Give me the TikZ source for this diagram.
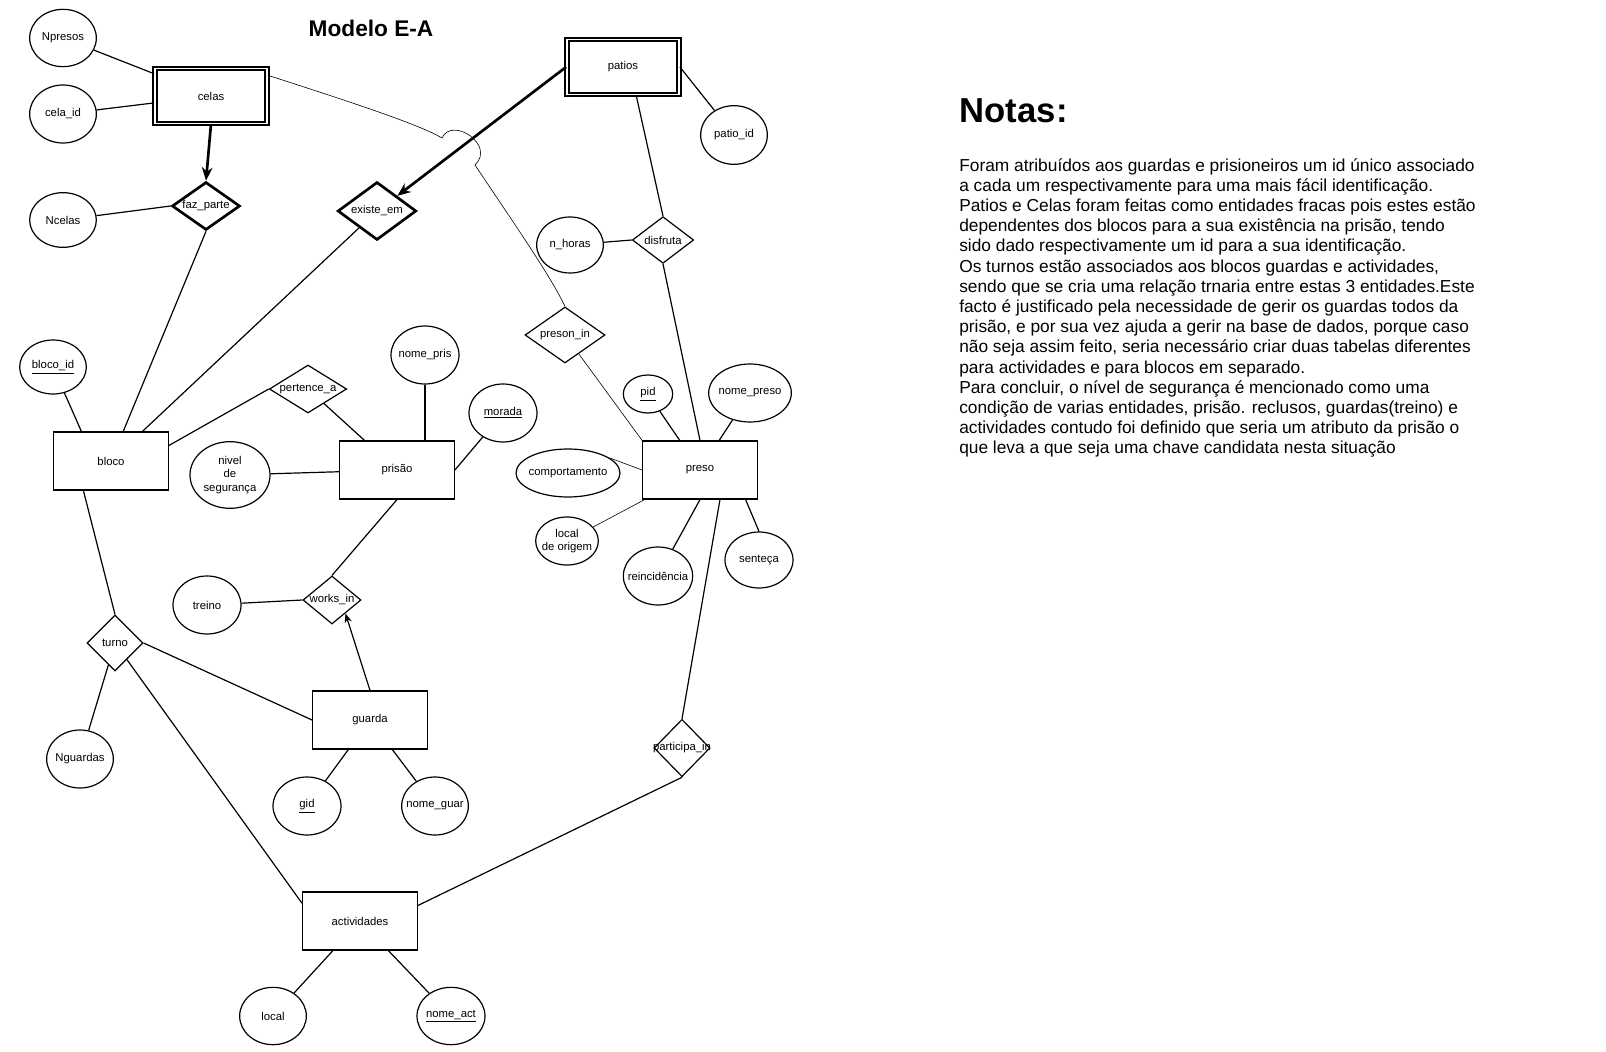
\documentclass[tikz,border=0pt]{standalone}
\usepackage{fontspec}
\setmainfont{Liberation Sans}
\usetikzlibrary{shapes.geometric,arrows.meta}

\begin{document}
\begin{tikzpicture}[x=.75pt,y=-.75pt,
    font=\fontsize{8.5}{10}\selectfont,
    every label/.style={inner sep=0pt,align=center},
    ent/.style={draw,line width=.9pt,minimum width=86pt,minimum height=43.5pt},
    weak/.style={draw,line width=1.35pt,double=white,double distance=1.1pt,minimum width=84pt,minimum height=41pt},
    attr/.style={ellipse,draw,line width=.9pt,inner sep=0pt,minimum width=51pt,minimum height=43.5pt},
    rel/.style={diamond,draw,line width=.9pt,inner sep=0pt},
    idrel/.style={rel,line width=2pt},
    link/.style={line width=.9pt},
    faint/.style={line width=.45pt},
    own/.style={line width=2pt,-{Stealth[length=10pt,width=8pt]}},
    toward/.style={line width=.9pt,-{Stealth[length=7pt,width=5.5pt]}}]
    \useasboundingbox (0,0) rectangle (1606,1052);
    \node[font=\fontsize{17}{20}\selectfont\bfseries] (titulo) at (371,28) {Modelo E-A};
    \node[weak] (celas) at (211,96) {celas};
    \node[weak] (patios) at (623,67) {patios};
    \node[ent] (bloco) at (111,461) {bloco};
    \node[ent] (prisao) at (397,470) {prisão};
    \node[ent] (preso) at (700,470) {preso};
    \node[ent] (guarda) at (370,720) {guarda};
    \node[ent] (activ) at (360,921) {actividades};

    \node[attr,minimum width=50pt,minimum height=43pt,label=center:Npresos] (npresos) at (63,38) {};
    \node[attr,minimum width=50pt,label=center:cela\_id] (celaid) at (63,114) {};
    \node[attr,minimum width=50pt,minimum height=41pt,label=center:Ncelas] (ncelas) at (63,220) {};
    \node[attr,minimum width=50pt,minimum height=44pt,label=center:patio\_id] (patioid) at (734,135) {};
    \node[attr,minimum width=50pt,minimum height=42pt,label=center:n\_horas] (nhoras) at (570,245) {};
    \node[attr,minimum width=50pt,minimum height=40.5pt,label=center:\underline{bloco\_id}] (blocoid) at (53,367) {};
    \node[attr,minimum width=60pt,minimum height=50pt,label={center:nivel\\de\\segurança}] (nivel) at (230,475) {};
    \node[attr,label=center:nome\_pris] (nomepris) at (425,355) {};
    \node[attr,label=center:\underline{morada}] (morada) at (503,413) {};
    \node[attr,minimum width=37pt,minimum height=28.5pt,label=center:\underline{pid}] (pid) at (648,394) {};
    \node[attr,minimum width=62pt,label=center:nome\_preso] (nomepreso) at (750,393) {};
    \node[attr,minimum width=78pt,minimum height=36pt,label=center:comportamento] (comport) at (568,473) {};
    \node[attr,minimum width=47pt,minimum height=36pt,label={center:local\\de origem}] (origem) at (567,541) {};
    \node[attr,minimum width=52pt,label=center:reincidência] (reinc) at (658,576) {};
    \node[attr,minimum height=42pt,label=center:senteça] (senteca) at (759,560) {};
    \node[attr,label=center:treino] (treino) at (207,605) {};
    \node[attr,minimum width=50pt,label=center:Nguardas] (nguardas) at (80,759) {};
    \node[attr,label=center:\underline{gid}] (gid) at (307,806) {};
    \node[attr,minimum width=50pt,label=center:nome\_guar] (nomeguar) at (435,806) {};
    \node[attr,minimum width=50pt,minimum height=43pt,label=center:local] (local) at (273,1016) {};
    \node[attr,minimum height=43pt,label=center:\underline{nome\_act}] (nomeact) at (451,1016) {};

    \node[idrel,minimum width=51pt,minimum height=36pt,label=center:faz\_parte] (fazparte) at (206,206) {};
    \node[idrel,minimum width=59pt,minimum height=43.5pt,label=center:existe\_em] (existe) at (377,211) {};
    \node[rel,minimum width=46pt,minimum height=35pt,label=center:disfruta] (disfruta) at (663,240) {};
    \node[rel,minimum width=60pt,minimum height=42pt,label=center:preson\_in] (preson) at (565,335) {};
    \node[rel,minimum width=58pt,minimum height=36pt,label=center:pertence\_a] (pertence) at (308,389) {};
    \node[rel,minimum width=43.5pt,minimum height=36pt,label=center:works\_in] (works) at (332,600) {};
    \node[rel,minimum width=42pt,minimum height=42pt,label=center:turno] (turno) at (115,643) {};
    \node[rel,minimum width=42pt,minimum height=43pt,label=center:participa\_in] (participa) at (682,748) {};

    \draw[link] (npresos) -- (celas);
    \draw[link] (celaid) -- (celas);
    \draw[link] (ncelas) -- (fazparte.west);
    \draw[own] (celas.south) -- (fazparte.north);
    \draw[own] (patios.west) -- (existe.north east);
    \draw[link] (patioid) -- (patios.east);
    \draw[link] (patios.-65) -- (disfruta.north);
    \draw[link] (nhoras) -- (disfruta.west);
    \draw[faint] (celas.20) .. controls (360,105) and (420,125) .. (442,138)
        .. controls (452,116) and (496,145) .. (475,165)
        .. controls (515,225) and (550,275) .. (preson.north);
    \draw[faint] (preson) -- (preso.north west);
    \draw[link] (fazparte.south) -- (bloco);
    \draw[link] (existe) -- (bloco);
    \draw[link] (blocoid) -- (bloco.135);
    \draw[link] (pertence.west) -- (bloco.15);
    \draw[link] (pertence) -- (prisao);
    \draw[link] (nomepris) -- (nomepris |- prisao.north);
    \draw[link] (morada) -- (prisao.east);
    \draw[link] (nivel) -- (prisao);
    \draw[link] (prisao.south) -- (works.north);
    \draw[link] (treino) -- (works.west);
    \draw[toward] (guarda.north) -- (works.-45);
    \draw[link] (guarda) -- (gid);
    \draw[link] (guarda) -- (nomeguar);
    \draw[link] (bloco.227) -- (turno.north);
    \draw[link] (turno) -- (nguardas);
    \draw[link] (turno.east) -- (guarda.west);
    \draw[link] (turno) -- (activ.163);
    \draw[link] (activ) -- (local);
    \draw[link] (activ) -- (nomeact);
    \draw[link] (participa.south) -- (activ.15);
    \draw[link] (preso.304) -- (participa.north);
    \draw[link] (pid) -- (preso);
    \draw[link] (nomepreso) -- (preso);
    \draw[link] (disfruta.south) -- (preso.north);
    \draw[faint] (comport.20) -- (preso.west);
    \draw[faint] (origem) -- (preso);
    \draw[link] (preso.south) -- (reinc);
    \draw[link] (preso.-33) -- (senteca.north);

    \node[anchor=west,font=\fontsize{26}{30}\selectfont\bfseries] (notas) at (955,111) {Notas:};
    \node[anchor=north west,align=left,inner sep=0pt,font=\fontsize{13}{15.15}\selectfont] (texto) at (959,158) {Foram atribuídos aos guardas e prisioneiros um id único associado\\
a cada um respectivamente para uma mais fácil identificação.\\
Patios e Celas foram feitas como entidades fracas pois estes estão\\
dependentes dos blocos para a sua existência na prisão, tendo\\
sido dado respectivamente um id para a sua identificação.\\
Os turnos estão associados aos blocos guardas e actividades,\\
sendo que se cria uma relação trnaria entre estas 3 entidades.Este\\
facto é justificado pela necessidade de gerir os guardas todos da\\
prisão, e por sua vez ajuda a gerir na base de dados, porque caso\\
não seja assim feito, seria necessário criar duas tabelas diferentes\\
para actividades e para blocos em separado.\\
Para concluir, o nível de segurança é mencionado como uma\\
condição de varias entidades, prisão. reclusos, guardas(treino) e\\
actividades contudo foi definido que seria um atributo da prisão o\\
que leva a que seja uma chave candidata nesta situação};
\end{tikzpicture}
\end{document}
